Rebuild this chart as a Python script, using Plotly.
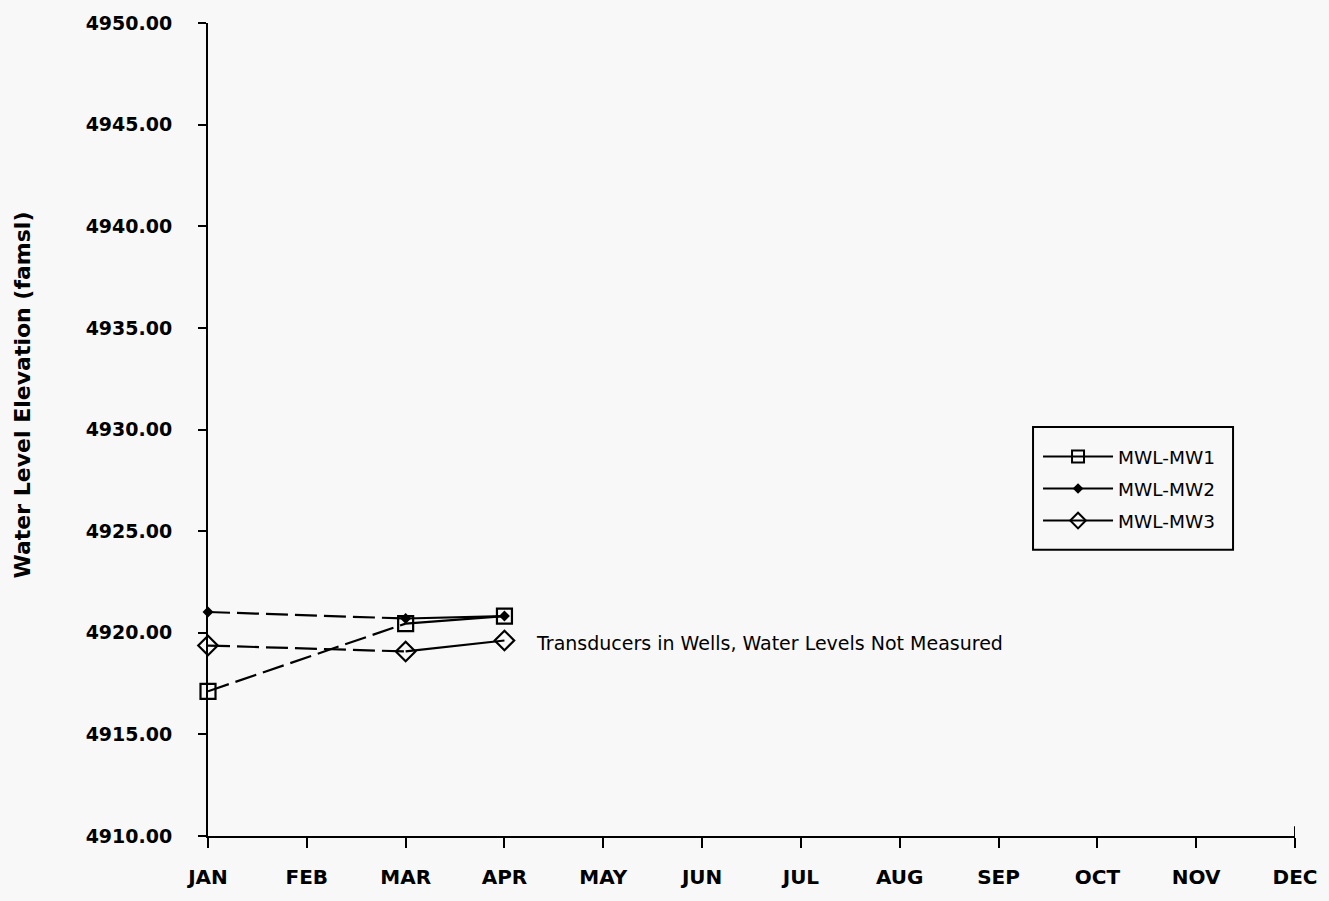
import plotly.graph_objects as go

months = ["JAN", "FEB", "MAR", "APR", "MAY", "JUN", "JUL", "AUG", "SEP", "OCT", "NOV", "DEC"]
meas_months = ["JAN", "MAR", "APR"]
mw1 = [4917.12, 4920.45, 4920.82]
mw2 = [4921.02, 4920.70, 4920.82]
mw3 = [4919.37, 4919.08, 4919.62]
series_names = ["MWL-MW1", "MWL-MW2", "MWL-MW3"]
y_ticks = [4910, 4915, 4920, 4925, 4930, 4935, 4940, 4945, 4950]
note_text = "Transducers in Wells, Water Levels Not Measured"
y_title = "Water Level Elevation (famsl)"

BG = "#f8f8f8"
styles = [
    dict(symbol="square-open", size=15, color="black"),
    dict(symbol="diamond", size=6, color="black"),
    dict(symbol="diamond-open", size=15, color="black"),
]

fig = go.Figure()
for i, (name, vals, st) in enumerate(zip(series_names, [mw1, mw2, mw3], styles)):
    # dashed connection JAN -> MAR (FEB not measured)
    fig.add_trace(go.Scatter(
        x=meas_months[:2], y=vals[:2], mode="lines",
        line=dict(color="black", width=2.2, dash="22px,7px"),
        showlegend=False, hoverinfo="skip", cliponaxis=False,
    ))
    # solid MAR -> APR
    fig.add_trace(go.Scatter(
        x=meas_months[1:], y=vals[1:], mode="lines",
        line=dict(color="black", width=2.2),
        showlegend=False, hoverinfo="skip", cliponaxis=False,
    ))
    # markers
    fig.add_trace(go.Scatter(
        x=meas_months, y=vals, mode="markers", name=name,
        marker=dict(symbol=st["symbol"], size=st["size"], color=st["color"],
                    line=dict(color="black", width=2.2)),
        showlegend=False, cliponaxis=False,
    ))
    # legend proxy (line + marker)
    fig.add_trace(go.Scatter(
        x=[None], y=[None], mode="lines+markers", name=name,
        legendgroup=name,
        line=dict(color="black", width=2),
        marker=dict(symbol=st["symbol"], size=st["size"] - 3 if st["size"] > 8 else st["size"],
                    color=st["color"], line=dict(color="black", width=2)),
    ))

fig.add_annotation(
    x=3.3, y=4919.5, xref="x", yref="y", text=note_text, showarrow=False,
    xanchor="left", yanchor="middle",
    font=dict(family="DejaVu Sans", size=19, color="black"),
)

fig.add_annotation(
    x=-0.171, y=0.542, xref="paper", yref="paper", text=y_title, showarrow=False,
    textangle=-90, xanchor="center", yanchor="middle",
    font=dict(family="DejaVu Sans", size=22, color="black", weight="bold"),
)

# small upward closing tick at DEC end of x axis
fig.add_shape(type="line", xref="x", yref="paper", x0=11, x1=11, y0=0, y1=0.012,
              line=dict(color="black", width=2))

# legend frame
fig.add_shape(type="rect", xref="paper", yref="paper",
              x0=0.759, x1=0.943, y0=0.352, y1=0.503,
              line=dict(color="black", width=2), fillcolor="rgba(0,0,0,0)", layer="above")

fig.update_layout(
    width=1329, height=901,
    paper_bgcolor=BG, plot_bgcolor=BG,
    margin=dict(l=208, r=34, t=23, b=63),
    showlegend=True,
    legend=dict(
        x=0.7636, y=0.4896, xanchor="left", yanchor="top",
        bgcolor="rgba(0,0,0,0)", borderwidth=0,
        font=dict(family="DejaVu Sans", size=18.5, color="black"),
        traceorder="grouped", tracegroupgap=5, itemwidth=70,
    ),
    xaxis=dict(
        type="category", categoryorder="array", categoryarray=months,
        tickvals=months, ticktext=months,
        range=[0, 11], showgrid=False, zeroline=False,
        showline=True, linecolor="black", linewidth=2,
        ticks="outside", ticklen=10, tickwidth=2, tickcolor="black",
        ticklabelstandoff=12,
        tickfont=dict(family="DejaVu Sans", size=20, color="black", weight="bold"),
    ),
    yaxis=dict(
        range=[4910, 4950], tickvals=y_ticks, tickformat=".2f",
        showgrid=False, zeroline=False,
        showline=True, linecolor="black", linewidth=2,
        ticks="outside", ticklen=8, tickwidth=2, tickcolor="black",
        ticklabelstandoff=22,
        tickfont=dict(family="DejaVu Sans", size=19, color="black", weight="bold"),
    ),
)

fig.write_html(
    "out.html",
    config={"displayModeBar": False},
    post_script="document.body.style.margin='0';document.body.style.background='#f8f8f8';",
)
